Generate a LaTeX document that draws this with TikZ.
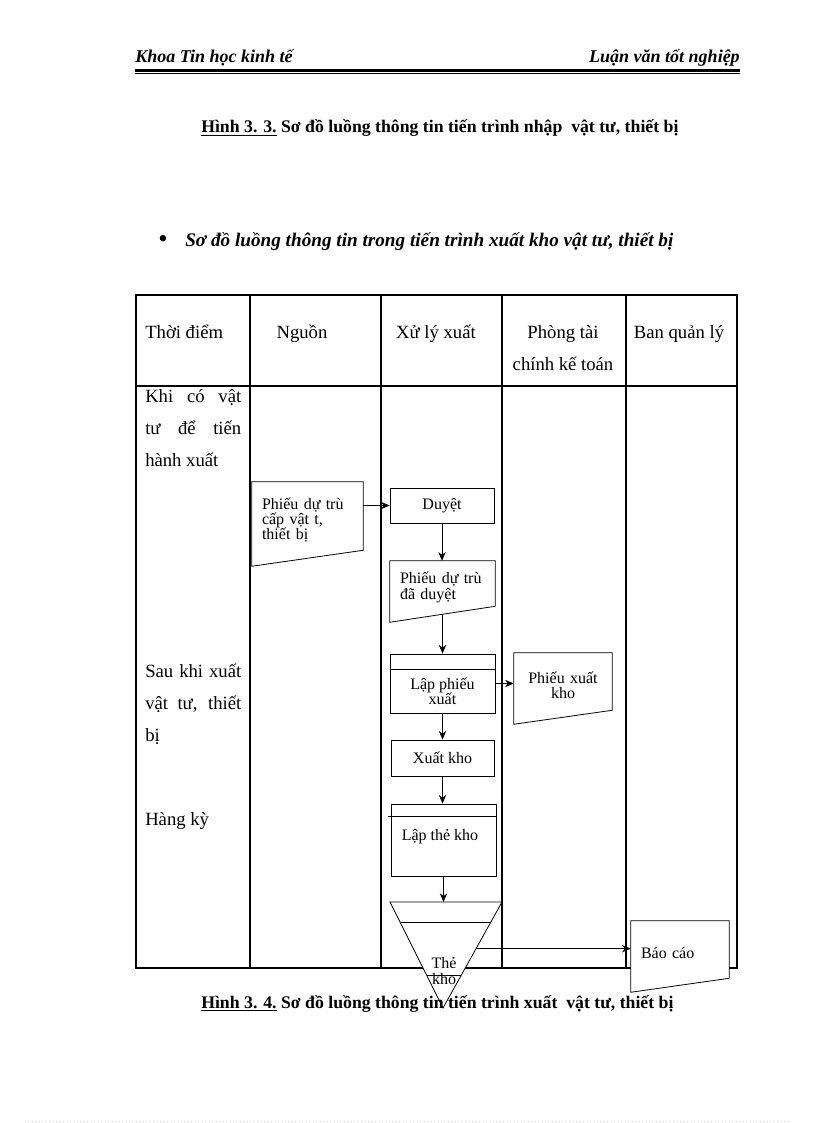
\documentclass[tikz,border=0pt]{standalone}
\usepackage{fontspec}
\setmainfont{Liberation Serif}
\usetikzlibrary{arrows.meta,calc,positioning}

\begin{document}
\begin{tikzpicture}[x=0.75pt,y=-0.75pt,
    box/.style={draw, line width=0.6pt, inner sep=0pt, font=\fontsize{12}{11.5}\selectfont, align=center},
    doc/.style={inner xsep=7.5pt, inner ysep=0pt, font=\fontsize{12}{11.5}\selectfont},
    txt/.style={inner sep=0pt, font=\fontsize{12}{11.5}\selectfont, align=center},
    cell/.style={inner sep=0pt, anchor=base, font=\fontsize{14}{24}\selectfont},
    link/.style={-{Stealth[length=6.5pt,width=5.5pt]},line width=0.6pt},
    grid/.style={line width=0.8pt}
]
\useasboundingbox (0,0) rectangle (816,1123);

% page header
\node[anchor=base west, inner sep=0pt, font=\fontsize{13.5}{15}\selectfont\bfseries\itshape] (khoa) at (135,63) {Khoa Tin học kinh tế};
\node[anchor=base east, inner sep=0pt, font=\fontsize{13.5}{15}\selectfont\bfseries\itshape] (luanvan) at (740,63) {Luận văn tốt nghiệp};
\draw[line width=1.6pt] (135,70.5) -- (740,70.5);
\draw[line width=0.5pt] (135,73.5) -- (740,73.5);

% caption of the previous figure
\node[anchor=base west, inner sep=0pt, font=\fontsize{13.3}{15}\selectfont\bfseries] (hinh33) at (201,133) {\underline{Hình 3. 3.} Sơ đồ luồng thông tin tiến trình nhập\ \ vật tư, thiết bị};

% heading
\node[inner sep=0pt, font=\fontsize{20}{22}\selectfont] (cham) at (163,241) {\textbullet};
\node[anchor=base west, inner sep=0pt, font=\fontsize{14.4}{16}\selectfont\bfseries\itshape] (tieude) at (185,246) {Sơ đồ luồng thông tin trong tiến trình xuất kho vật tư, thiết bị};

% table
\draw[grid] (136,295) rectangle (737,968);
\draw[grid] (136,386) -- (737,386);
\foreach \x in {250,381,502,626}
    \draw[grid] (\x,295) -- (\x,968);

\node[cell, anchor=base west] (h-thoidiem) at (145,338) {Thời điểm};
\node[cell] (h-nguon) at (302,338) {Nguồn};
\node[cell] (h-xuly) at (436,338) {Xử lý xuất};
\node[cell] (h-phong) at (563,338) {\parbox[t]{110pt}{\centering Phòng tài\\chính kế toán}};
\node[cell] (h-ban) at (679,338) {Ban quản lý};

\node[cell, anchor=base west] (khico) at (145,402) {\parbox[t]{72pt}{\makebox[72pt][s]{Khi có vật}\\\makebox[72pt][s]{tư để tiến}\\hành xuất}};
\node[cell, anchor=base west] (sauxuat) at (145,677) {\parbox[t]{72pt}{\makebox[72pt][s]{Sau khi xuất}\\\makebox[72pt][s]{vật tư, thiết}\\bị}};
\node[cell, anchor=base west] (hangky) at (145,825) {Hàng kỳ};

% flow
\node[doc, minimum width=83.25pt, minimum height=57pt, text width=68.25pt, align=left] (phieudutru) at (307.5,520) {Phiếu dự trù\\cấp vật t,\\thiết bị};
\node[box, minimum width=78pt, minimum height=26.25pt] (duyet) at (442,505.5) {Duyệt};
\node[doc, minimum width=78.75pt, minimum height=39.75pt, text width=63.75pt, align=left] (phieuduyet) at (442.5,587.5) {Phiếu dự trù\\đã duyệt};

\node[box, minimum width=78.75pt, minimum height=44.25pt] (lapphieu) at (442.5,683.5) {};
\draw[line width=0.6pt] ($(lapphieu.north west)+(0,16)$) -- ($(lapphieu.north east)+(0,16)$);
\node[txt] (lapphieu-t) at (442.5,691) {Lập phiếu\\xuất};

\node[doc, minimum width=73.5pt, minimum height=48pt, text width=58.5pt, align=center] (phieuxuat) at (563,685) {Phiếu xuất\\kho};
\node[box, minimum width=77.25pt, minimum height=27pt] (xuatkho) at (442.5,758) {Xuất kho};

\node[box, minimum width=78.75pt, minimum height=54pt] (lapthe) at (443.5,840) {};
\draw[line width=0.6pt] ($(lapthe.north west)+(-3,13)$) -- ($(lapthe.north east)+(0,13)$);
\node[txt] (lapthe-t) at (440,837) {Lập thẻ kho};

% the store card (inverted triangle)
\coordinate (tk-l) at (390,902);
\coordinate (tk-r) at (502,902);
\coordinate (tk-a) at (443,1008);
\coordinate (tk-e) at ($(tk-r)!0.44!(tk-a)$);
\draw[line width=0.6pt, fill=white] (tk-l) -- (tk-r) -- (tk-a) -- cycle;
\draw[line width=0.6pt] ($(tk-l)!0.19!(tk-a)$) -- ($(tk-r)!0.19!(tk-a)$);
\draw[line width=0.6pt] ($(tk-l)!0.69!(tk-a)$) -- ($(tk-r)!0.69!(tk-a)$);
\node[txt] (thekho) at (444,971) {Thẻ\\kho};

\node[doc, fill=white, minimum width=73.5pt, minimum height=48pt, text width=58.5pt, align=left] (baocao) at (680,953) {Báo cáo};

\foreach \n/\s in {phieudutru/8,phieuduyet/8,phieuxuat/7,baocao/7}
    \draw[line width=0.6pt] (\n.north west) -- (\n.north east) -- ($(\n.south east)+(0,-\s)$) -- ($(\n.south west)+(0,\s)$) -- cycle;

% links
\draw[link] (phieudutru.east |- duyet.west) -- (duyet.west);
\draw[link] (duyet.south) -- (duyet.south |- phieuduyet.north);
\draw[link] (phieuduyet.south) -- (phieuduyet.south |- lapphieu.north);
\draw[link] (lapphieu.east) -- (lapphieu.east -| phieuxuat.west);
\draw[link] (lapphieu.south) -- (lapphieu.south |- xuatkho.north);
\draw[link] (xuatkho.south) -- (xuatkho.south |- lapthe.north);
\draw[link] (lapthe.south) -- (lapthe.south |- tk-l);
\draw[link] (tk-e) -- (tk-e -| baocao.west);

% caption
\node[anchor=base west, inner sep=0pt, font=\fontsize{13.3}{15}\selectfont\bfseries] (hinh34) at (201,1008) {\underline{Hình 3. 4.} Sơ đồ luồng thông tin tiến trình xuất\ \ vật tư, thiết bị};

\draw[gray!35, dotted, line width=0.6pt] (25,1121) -- (790,1121);
\end{tikzpicture}
\end{document}
